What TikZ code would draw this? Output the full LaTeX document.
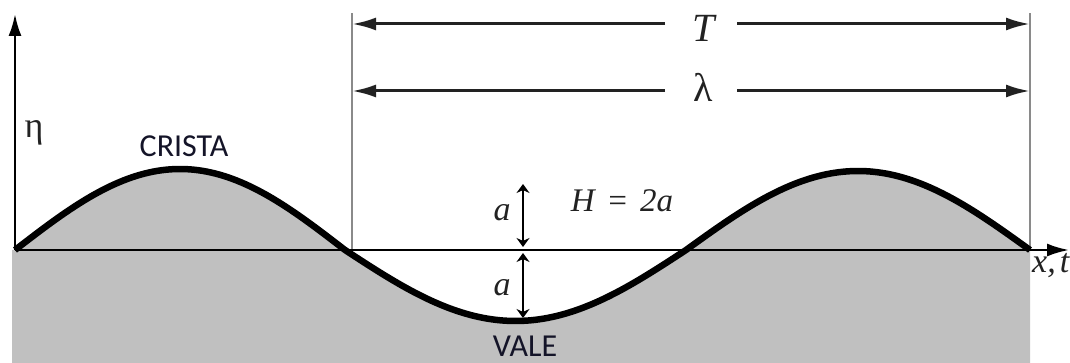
\documentclass[tikz,border=0pt]{standalone}
\usepackage{fontspec}
\setmainfont{Liberation Serif}
\newfontfamily\carl{Carlito}
\usetikzlibrary{arrows.meta}
\definecolor{seagrey}{HTML}{C0C0C0}
\definecolor{ink}{HTML}{222222}
\definecolor{guide}{HTML}{8A8A8A}
\definecolor{wordink}{HTML}{141428}
\tikzset{
  axisline/.style={line width=2.4pt, black, -{Latex[length=22pt,width=13pt]}},
  guideline/.style={line width=1.4pt, guide},
  dimarrow/.style={line width=3pt, ink, -{Latex[length=24pt,width=13pt]}},
  smallarrow/.style={line width=2.4pt, black, {Stealth[length=9pt,width=13pt]}-{Stealth[length=9pt,width=13pt]}},
  wave/.style={line width=6.5pt, black, line join=round},
  mathlbl/.style={text=ink, inner sep=0pt},
  wordlbl/.style={text=wordink, inner sep=0pt, font=\carl\fontsize{32}{36}\selectfont}
}
\begin{document}
\begin{tikzpicture}[x=1pt,y=-1pt]
\useasboundingbox (0,0) rectangle (1070,363);
% coordinates
\coordinate (O) at (15,250);
\coordinate (ytip) at (15,14);
\coordinate (xtip) at (1069,250);
\coordinate (L1top) at (352,13);
\coordinate (L1bot) at (352,250);
\coordinate (L2top) at (1030,13);
\coordinate (L2bot) at (1030,250);
% grey water
\fill[seagrey] (12,363) -- (12,250) -- (15,250)
  -- plot[domain=15:345,samples=80] (\x,{250-81*sin((\x-15)/330*180)})
  -- plot[domain=345:686,samples=80] (\x,{250+71*sin((\x-345)/341*180)})
  -- plot[domain=686:1030,samples=80] (\x,{250-79*sin((\x-686)/344*180)})
  -- (1030,363) -- cycle;
% guide lines
\draw[guideline] (L1bot) -- (L1top);
\draw[guideline] (L2bot) -- (L2top);
% axes
\draw[axisline] (O) -- (xtip);
\draw[axisline] (O) -- (ytip);
% wave
\draw[wave] plot[domain=15:345,samples=80] (\x,{250-81*sin((\x-15)/330*180)})
  -- plot[domain=345:686,samples=80] (\x,{250+71*sin((\x-345)/341*180)})
  -- plot[domain=686:1030,samples=80] (\x,{250-79*sin((\x-686)/344*180)});
% period / wavelength dimension lines
\node[mathlbl, font=\fontsize{40}{46}\selectfont\itshape] (T) at (704,28) {T};
\node[mathlbl, font=\fontsize{40}{46}\selectfont] (lam) at (703,87) {λ};
\coordinate (TL) at (352,24);
\coordinate (TR) at (1030,24);
\coordinate (LL) at (352,91);
\coordinate (LR) at (1030,91);
\coordinate (Ta) at (665,24);
\coordinate (Tb) at (737,24);
\coordinate (La) at (665,91);
\coordinate (Lb) at (737,91);
\draw[dimarrow] (Ta) -- (TL);
\draw[dimarrow] (Tb) -- (TR);
\draw[dimarrow] (La) -- (LL);
\draw[dimarrow] (Lb) -- (LR);
% amplitude arrows
\coordinate (a1t) at (523,184);
\coordinate (a1b) at (523,247);
\coordinate (a2t) at (523,253);
\coordinate (a2b) at (523,318);
\draw[smallarrow] (a1t) -- (a1b);
\draw[smallarrow] (a2t) -- (a2b);
\node[mathlbl, font=\fontsize{34}{38}\selectfont\itshape] (a1) at (502,213) {a};
\node[mathlbl, font=\fontsize{34}{38}\selectfont\itshape] (a2) at (502,288) {a};
\node[mathlbl, font=\fontsize{33}{38}\selectfont\itshape] (H) at (622,201) {H\hspace{0.35em}=\hspace{0.35em}2a};
% axis labels
\node[mathlbl, font=\fontsize{36}{40}\selectfont] (eta) at (34,133) {η};
\node[mathlbl, font=\fontsize{34}{40}\selectfont\itshape, anchor=west] (xt) at (1032,266) {x,\hspace{0.12em}t};
% words
\node[wordlbl] (crista) at (184,146) {CRISTA};
\node[wordlbl] (vale) at (525,346) {VALE};
\end{tikzpicture}
\end{document}
